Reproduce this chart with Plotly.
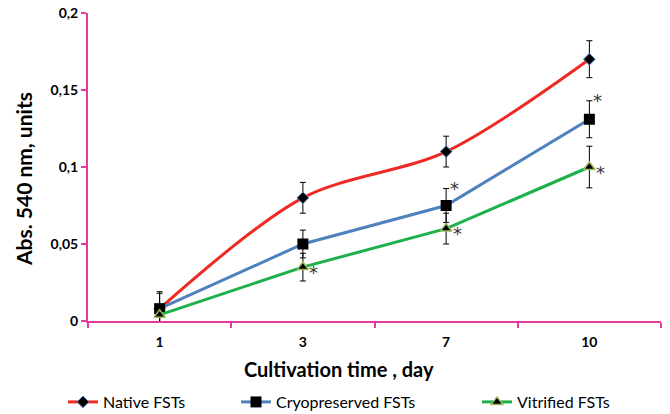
import plotly.graph_objects as go

days = ["1", "3", "7", "10"]
native = [0.008, 0.080, 0.110, 0.170]
native_err = [0.010, 0.010, 0.010, 0.012]
cryo = [0.008, 0.050, 0.075, 0.131]
cryo_err = [0.011, 0.009, 0.011, 0.012]
vitri = [0.004, 0.035, 0.060, 0.100]
vitri_err = [0.005, 0.009, 0.010, 0.0135]
ytick_vals = [0, 0.05, 0.1, 0.15, 0.2]
ytick_text = ["0", "0,05", "0,1", "0,15", "0,2"]
# significance marks: day indices
stars_cryo = [2, 3]
stars_vitri = [1, 2, 3]
x_title = "Cultivation time , day"
y_title = "Abs. 540 nm, units"

PINK = "#E8399F"
FONT = "Lato, Open Sans, sans-serif"

fig = go.Figure()

def err(vals):
    return dict(type="data", array=vals, color="black", thickness=1, width=3)

fig.add_trace(go.Scatter(
    x=days, y=native, name="Native FSTs", mode="lines+markers",
    line=dict(color="#EE2A24", width=3, shape="spline", smoothing=0.9),
    marker=dict(symbol="diamond", size=9, color="black", line=dict(color="#4F81BD", width=1)),
    error_y=err(native_err), legend="legend", showlegend=True))
fig.add_trace(go.Scatter(
    x=days, y=cryo, name="Cryopreserved FSTs", mode="lines+markers",
    line=dict(color="#4F81BD", width=3),
    marker=dict(symbol="square", size=11, color="black", line=dict(color="black", width=0)),
    error_y=err(cryo_err), legend="legend2", showlegend=True))
fig.add_trace(go.Scatter(
    x=days, y=vitri, name="Vitrified FSTs", mode="lines+markers",
    line=dict(color="#1DB04B", width=3),
    marker=dict(symbol="triangle-up", size=10, color="black", line=dict(color="#9BBB59", width=1.5)),
    error_y=err(vitri_err), legend="legend3", showlegend=True))

for i in stars_cryo:
    fig.add_annotation(x=i, y=cryo[i] + cryo_err[i], text="*", showarrow=False,
                       xshift=8, yshift=0, font=dict(size=18, color="#333", family="DejaVu Sans"))
for i in stars_vitri:
    fig.add_annotation(x=i, y=vitri[i], text="*", showarrow=False,
                       xshift=11, yshift=-5, font=dict(size=18, color="#333", family="DejaVu Sans"))

# axis titles (placed as in the reference, slightly off-centre)
fig.add_annotation(xref="paper", yref="paper", x=0.438, y=-0.156, text="<b>" + x_title + "</b>",
                   showarrow=False, xanchor="center", yanchor="middle",
                   font=dict(size=20, family=FONT, color="black"))
fig.add_annotation(xref="paper", yref="paper", x=-0.1134, y=0.461, text="<b>" + y_title + "</b>",
                   showarrow=False, xanchor="center", yanchor="middle", textangle=-90,
                   font=dict(size=21, family=FONT, color="black"))

leg_common = dict(orientation="h", yanchor="middle", xanchor="left",
                  font=dict(size=16, family=FONT, color="black"), bgcolor="rgba(0,0,0,0)")

# page body adds an 8px offset, so the figure is drawn 8px smaller
fig.update_layout(
    width=662, height=406,
    showlegend=True,
    margin=dict(l=80, r=9, t=5, b=93, autoexpand=False),
    plot_bgcolor="white", paper_bgcolor="white",
    font=dict(family=FONT, color="black"),
    xaxis=dict(type="category", range=[-0.5, 3.5], showline=True, linecolor=PINK, linewidth=2,
               ticks="outside", tickson="boundaries", tickcolor=PINK, ticklen=5, tickwidth=2,
               showgrid=False, zeroline=False, ticklabelstandoff=7,
               tickfont=dict(size=14, family=FONT, color="black", weight="bold")),
    yaxis=dict(range=[0, 0.2], showline=True, linecolor=PINK, linewidth=2,
               ticks="outside", tickcolor=PINK, ticklen=5, tickwidth=2, ticklabeloverflow="allow",
               tickvals=ytick_vals, ticktext=ytick_text, showgrid=False, zeroline=False,
               tickfont=dict(size=14, family=FONT, color="black", weight="bold")),
    legend=dict(x=-0.0436, y=-0.263, **leg_common),
    legend2=dict(x=0.2583, y=-0.263, **leg_common),
    legend3=dict(x=0.6789, y=-0.263, **leg_common),
)

fig.write_html("out.html")
